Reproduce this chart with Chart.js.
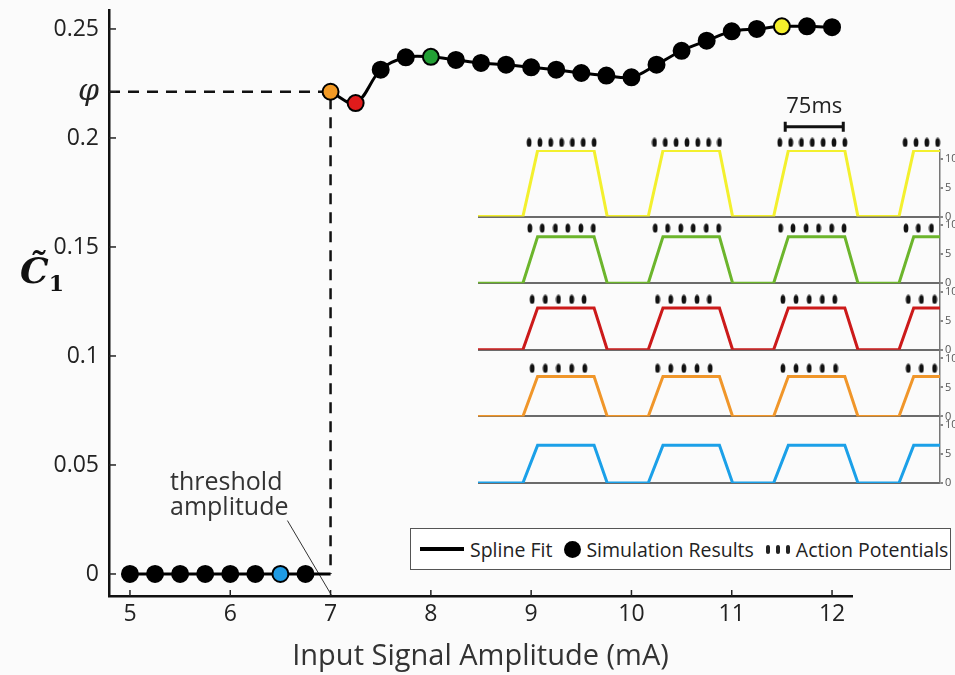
<!DOCTYPE html>
<html>
<head>
<meta charset="utf-8">
<script src="https://cdn.jsdelivr.net/npm/chart.js@4.4.1/dist/chart.umd.min.js"></script>
<style>
  body { margin: 0; background: #fbfbfb; font-family: "Open Sans", sans-serif; }
  #wrap { position: relative; width: 955px; height: 675px; overflow: hidden; }
  #main { position: absolute; left: 0; top: 0; }
  #inset { position: absolute; left: 470px; top: 95px; }
  #ylab { position: absolute; left: 20px; top: 252px; color: #111; font-family: "DejaVu Serif", serif; font-size: 36px; font-style: italic; font-weight: bold; line-height: 1; }
  #ylab sub { font-style: normal; font-size: 22px; }
  #legend {
    position: absolute; left: 410px; top: 528px; width: 541px; height: 42px;
    box-sizing: border-box; border: 1.5px solid #555; background: #fff;
    display: flex; align-items: center; padding-left: 9px;
    font-size: 19.5px; color: #222; white-space: nowrap;
  }
  .ln { width: 44px; height: 4px; background: #000; margin-right: 6px; }
  .dot { width: 17px; height: 17px; border-radius: 50%; background: #000; margin: 0 5px 0 12px; }
  .ap { display: inline-flex; gap: 6px; margin: 0 6px 0 12px; }
  .ap i { display: block; width: 4px; height: 9px; border-radius: 2px; background: #222; }
</style>
</head>
<body>
<div id="wrap">
  <canvas id="main" width="955" height="675"></canvas>
  <canvas id="inset" width="485" height="400"></canvas>
  <div id="ylab">C&#771;<sub>1</sub></div>
  <div id="legend">
    <span class="ln"></span><span>Spline Fit</span>
    <span class="dot"></span><span>Simulation Results</span>
    <span class="ap"><i></i><i></i><i></i></span><span>Action Potentials</span>
  </div>
</div>
<script>
// main curve: C1 vs input amplitude (mA)
const subAmps = [5, 5.25, 5.5, 5.75, 6, 6.25, 6.5, 6.75];
const subC1 = [0, 0, 0, 0, 0, 0, 0, 0];
const supraAmps = [7, 7.25, 7.5, 7.75, 8, 8.25, 8.5, 8.75, 9, 9.25, 9.5, 9.75, 10,
                   10.25, 10.5, 10.75, 11, 11.25, 11.5, 11.75, 12];
const supraC1 = [0.2212, 0.2160, 0.2313, 0.2370, 0.2372, 0.2358, 0.2344, 0.2336, 0.2324,
                 0.2313, 0.2298, 0.2286, 0.2278, 0.2336, 0.2400, 0.2446, 0.2489, 0.2500,
                 0.2512, 0.2512, 0.2508];
const xTicks = [5, 6, 7, 8, 9, 10, 11, 12];
const yTicks = [0, 0.05, 0.1, 0.15, 0.2, 0.25];
const PHI = 0.2212;
const THRESHOLD = 7;
const highlightAmps = [6.5, 7, 7.25, 8, 11.5];
const highlightColors = ["#1e9be4", "#f39a25", "#e01b1b", "#23a035", "#f5ef2b"];

// inset: firing-rate bursts, time in ms
const waveT = [0, 58, 77, 150, 167, 220, 239, 312, 329, 382, 401, 474, 491, 544, 563, 597];
const yellowRate = [0, 0, 11.4, 11.4, 0, 0, 11.4, 11.4, 0, 0, 11.4, 11.4, 0, 0, 11.4, 11.4];
const greenRate  = [0, 0, 8.0, 8.0, 0, 0, 8.0, 8.0, 0, 0, 8.0, 8.0, 0, 0, 8.0, 8.0];
const redRate    = [0, 0, 7.2, 7.2, 0, 0, 7.2, 7.2, 0, 0, 7.2, 7.2, 0, 0, 7.2, 7.2];
const orangeRate = [0, 0, 6.9, 6.9, 0, 0, 6.9, 6.9, 0, 0, 6.9, 6.9, 0, 0, 6.9, 6.9];
const blueRate   = [0, 0, 6.5, 6.5, 0, 0, 6.5, 6.5, 0, 0, 6.5, 6.5, 0, 0, 6.5, 6.5];
const yellowSpikes = [66, 80, 94, 108, 122, 136, 150, 228, 242, 256, 270, 284, 298, 312,
                      390, 404, 418, 432, 446, 460, 474, 552, 566, 580, 594];
const greenSpikes = [67, 83, 100, 116, 133, 149, 229, 245, 262, 278, 295, 311,
                     391, 407, 424, 440, 457, 473, 553, 569, 586];
const redSpikes = [70, 87, 104, 121, 137, 232, 249, 266, 283, 299,
                   394, 411, 428, 445, 461, 556, 573, 590];
const orangeSpikes = [70, 87, 104, 121, 138, 232, 249, 266, 283, 300,
                      394, 411, 428, 445, 462, 556, 573, 590];
const blueSpikes = [];
const yellowSpikeY = 12.8, greenSpikeY = 9.5, redSpikeY = 8.7, orangeSpikeY = 8.3, blueSpikeY = 0;
const rateTicks = [0, 5, 10];
const SCALE_BAR_T0 = 397;
const SCALE_BAR_LEN = 75;

const FONT = "'Open Sans', sans-serif";
const pts = (xs, ys) => xs.map((x, i) => ({ x: x, y: ys[i] }));

// small upright ellipse used as the action-potential marker
const spikeMark = document.createElement("canvas");
spikeMark.width = 6;
spikeMark.height = 10;
(function () {
  const g = spikeMark.getContext("2d");
  g.fillStyle = "#111";
  g.beginPath();
  g.ellipse(3, 5, 2.4, 4.6, 0, 0, Math.PI * 2);
  g.fill();
})();

function markerColor(ctx) {
  const raw = ctx.raw;
  if (!raw) return "#000";
  const k = highlightAmps.indexOf(raw.x);
  return k < 0 ? "#000" : highlightColors[k];
}

const mainExtras = {
  id: "mainExtras",
  afterDraw(chart) {
    const c = chart.ctx, xs = chart.scales.x, ys = chart.scales.y, a = chart.chartArea;
    c.save();
    c.strokeStyle = "#222";
    c.lineWidth = 1.5;
    xTicks.forEach(v => {
      const px = xs.getPixelForValue(v);
      c.beginPath(); c.moveTo(px, a.bottom); c.lineTo(px, a.bottom - 6); c.stroke();
    });
    yTicks.concat([PHI]).forEach(v => {
      const py = ys.getPixelForValue(v);
      c.beginPath(); c.moveTo(a.left, py); c.lineTo(a.left + 7, py); c.stroke();
    });
    c.fillStyle = "#333";
    c.font = "25px " + FONT;
    c.textAlign = "center";
    c.textBaseline = "middle";
    c.fillText("threshold", xs.getPixelForValue(5.96), ys.getPixelForValue(0.0420));
    c.fillText("amplitude", xs.getPixelForValue(5.99), ys.getPixelForValue(0.0302));
    c.restore();
  }
};

new Chart(document.getElementById("main"), {
  type: "line",
  data: {
    datasets: [
      {
        label: "Simulation Results",
        data: pts(subAmps, subC1).concat(pts(supraAmps, supraC1)),
        showLine: false,
        pointRadius: 8,
        pointBorderWidth: 2,
        pointBackgroundColor: markerColor,
        pointBorderColor: "#000",
        order: 0
      },
      {
        label: "Spline Fit",
        data: pts(supraAmps, supraC1),
        borderColor: "#000",
        borderWidth: 3,
        tension: 0.35,
        pointRadius: 0,
        order: 1
      },
      {
        label: "Spline Fit (sub-threshold)",
        data: pts(subAmps, subC1).concat([{ x: THRESHOLD, y: 0 }]),
        borderColor: "#000",
        borderWidth: 3,
        pointRadius: 0,
        order: 1
      },
      {
        label: "phi guide",
        data: [{ x: 4.791, y: PHI }, { x: THRESHOLD, y: PHI }, { x: THRESHOLD, y: 0 }],
        borderColor: "#111",
        borderWidth: 2.5,
        borderDash: [11, 8],
        pointRadius: 0,
        order: 2
      },
      {
        label: "pointer",
        data: [{ x: 6.57, y: 0.0245 }, { x: 7.01, y: -0.0098 }],
        borderColor: "#333",
        borderWidth: 1,
        pointRadius: 0,
        order: 3
      }
    ]
  },
  options: {
    responsive: false,
    animation: false,
    layout: { padding: { left: 0, right: 103, top: 10, bottom: 0 } },
    plugins: { legend: { display: false }, tooltip: { enabled: false } },
    scales: {
      x: {
        type: "linear",
        min: 4.791,
        max: 12.199,
        afterBuildTicks: s => { s.ticks = xTicks.map(v => ({ value: v })); },
        afterFit: s => { s.height = 79; },
        grid: { display: true, drawOnChartArea: false, drawTicks: false },
        border: { display: true, color: "#111", width: 2.5 },
        ticks: { color: "#222", padding: 5, font: { family: FONT, size: 23 } },
        title: {
          display: true,
          text: "Input Signal Amplitude (mA)",
          color: "#333",
          font: { family: FONT, size: 29 },
          padding: { top: 0, bottom: 1 }
        }
      },
      y: {
        type: "linear",
        min: -0.0101,
        max: 0.2587,
        afterBuildTicks: s => { s.ticks = yTicks.concat([PHI]).map(v => ({ value: v })); },
        afterFit: s => { s.width = 109; s.paddingTop = 0; s.paddingBottom = 0; },
        grid: { display: true, drawOnChartArea: false, drawTicks: false },
        border: { display: true, color: "#111", width: 2.5 },
        ticks: {
          color: "#222",
          padding: 10,
          callback: v => (v === PHI ? "\u03C6" : String(v)),
          font: ctx => (ctx.tick && ctx.tick.value === PHI
            ? { family: "'DejaVu Serif', serif", style: "italic", size: 30 }
            : { family: FONT, size: 23 })
        }
      }
    }
  },
  plugins: [mainExtras]
});

// ---------- inset (first stacked axis is drawn at the top) ----------
const rows = [
  { id: "yYellow", color: "#f3f02e", rate: yellowRate, spikes: yellowSpikes, spikeY: yellowSpikeY },
  { id: "yGreen", color: "#6cb52c", rate: greenRate, spikes: greenSpikes, spikeY: greenSpikeY },
  { id: "yRed", color: "#cc1a1a", rate: redRate, spikes: redSpikes, spikeY: redSpikeY },
  { id: "yOrange", color: "#f0962a", rate: orangeRate, spikes: orangeSpikes, spikeY: orangeSpikeY },
  { id: "yBlue", color: "#1ba0e8", rate: blueRate, spikes: blueSpikes, spikeY: blueSpikeY }
];

const insetDatasets = [];
const insetScales = {
  x: { type: "linear", min: 0, max: 597, display: false }
};
rows.forEach(r => {
  insetDatasets.push({
    data: pts(waveT, r.rate),
    yAxisID: r.id,
    borderColor: r.color,
    borderWidth: 3,
    pointRadius: 0,
    tension: 0,
    order: 1
  });
  insetDatasets.push({
    data: r.spikes.map(t => ({ x: t, y: r.spikeY })),
    yAxisID: r.id,
    showLine: false,
    pointStyle: spikeMark,
    pointRadius: 12, // only widens the in-area test; the image keeps its own size
    clip: false,
    order: 0
  });
  insetScales[r.id] = {
    type: "linear",
    position: "right",
    stack: "bursts",
    stackWeight: 1,
    min: 0,
    max: 11.5,
    afterBuildTicks: s => { s.ticks = rateTicks.map(v => ({ value: v })); },
    afterFit: s => { s.width = 15; },
    grid: {
      drawOnChartArea: true,
      color: ctx => (ctx.tick && ctx.tick.value === 0 ? "#6b6b6b" : "rgba(0,0,0,0)"),
      lineWidth: 2,
      drawTicks: true,
      tickLength: 3,
      tickColor: "#888"
    },
    border: { display: true, color: "#777", width: 1.5 },
    ticks: { color: "#555", padding: 2, font: { family: FONT, size: 11 } }
  };
});

const scaleBar = {
  id: "scaleBar",
  afterDraw(chart) {
    const c = chart.ctx, xs = chart.scales.x, ys = chart.scales.yYellow;
    const x1 = xs.getPixelForValue(SCALE_BAR_T0);
    const x2 = xs.getPixelForValue(SCALE_BAR_T0 + SCALE_BAR_LEN);
    const y = ys.getPixelForValue(15.5);
    c.save();
    c.strokeStyle = "#111";
    c.lineWidth = 3;
    c.beginPath();
    c.moveTo(x1, y); c.lineTo(x2, y);
    c.moveTo(x1, y - 5); c.lineTo(x1, y + 5);
    c.moveTo(x2, y - 5); c.lineTo(x2, y + 5);
    c.stroke();
    c.fillStyle = "#222";
    c.font = "22px " + FONT;
    c.textAlign = "center";
    c.textBaseline = "middle";
    c.fillText(SCALE_BAR_LEN + "ms", (x1 + x2) / 2, ys.getPixelForValue(18.9));
    c.restore();
  }
};

new Chart(document.getElementById("inset"), {
  type: "line",
  data: { datasets: insetDatasets },
  options: {
    responsive: false,
    animation: false,
    layout: { autoPadding: false, padding: { left: 8, right: 0, top: 55, bottom: 12 } },
    plugins: { legend: { display: false }, tooltip: { enabled: false } },
    scales: insetScales
  },
  plugins: [scaleBar]
});
</script>
</body>
</html>
